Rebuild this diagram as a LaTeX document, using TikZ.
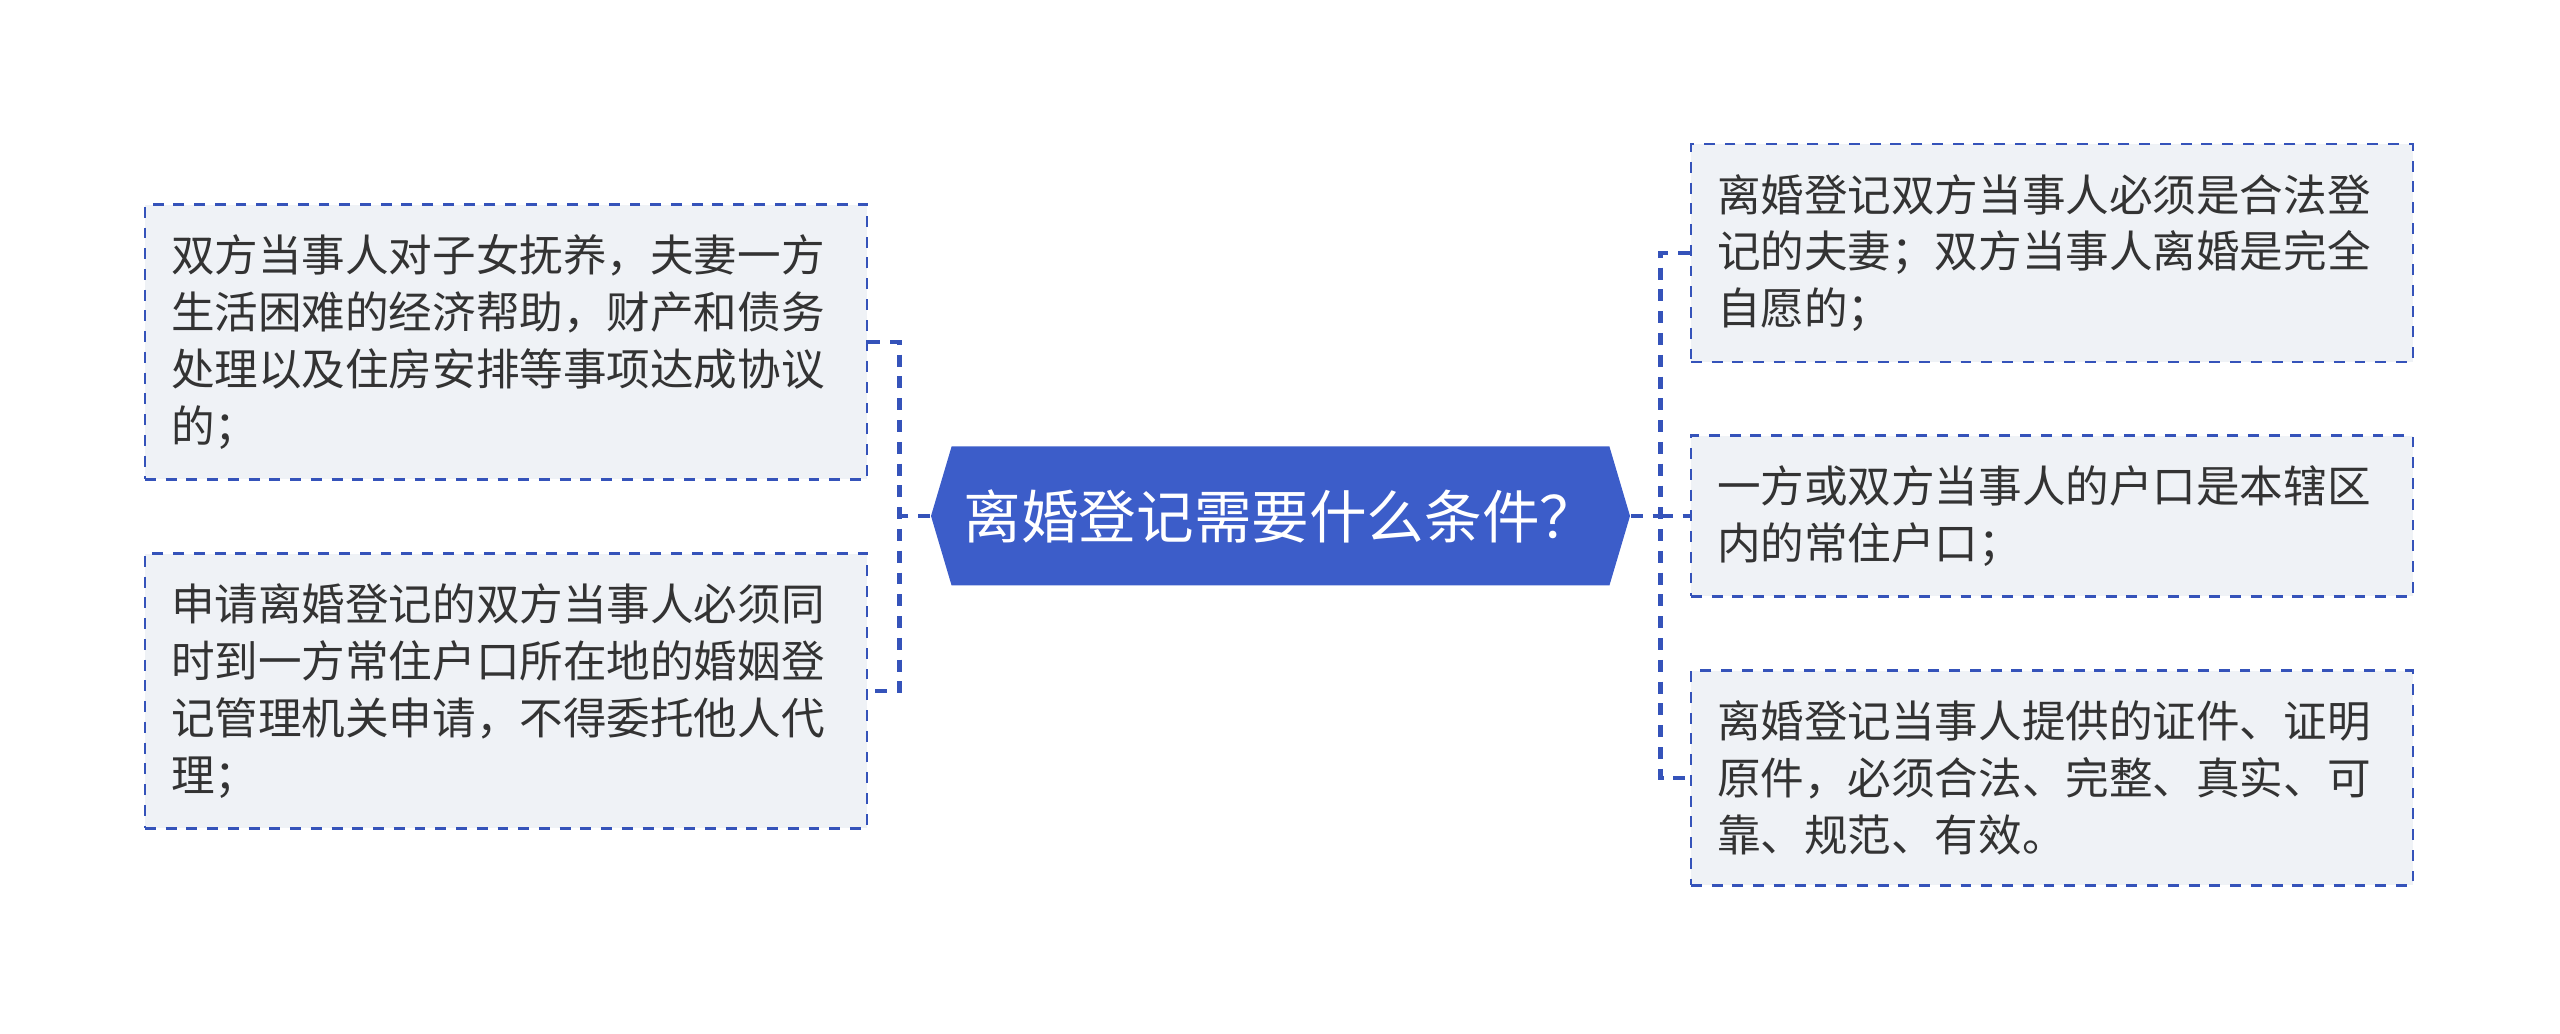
\documentclass[tikz,border=0pt]{standalone}
\usepackage{fontspec}
\newfontfamily\cjk{Noto Sans CJK SC}
\usetikzlibrary{shapes.symbols, positioning}
\definecolor{topicblue}{HTML}{3C5DC9}
\definecolor{linkblue}{HTML}{3553BA}
\definecolor{boxfill}{HTML}{EFF2F6}
\definecolor{textgray}{HTML}{333333}

\begin{document}
\begin{tikzpicture}[
  topic/.style={shape=signal, signal to=east and west, signal pointer angle=147, fill=topicblue, text=white,
    font=\cjk\fontsize{16.4}{20}\selectfont, minimum width=6.99cm, minimum height=1.39cm, inner sep=0pt},
  item/.style={draw=linkblue, line width=0.75pt, dash pattern=on 3.1pt off 2.8pt, fill=boxfill, text=textgray,
    font=\cjk\fontsize{12.4}{16.2}\selectfont, text width=6.7cm, inner xsep=0.26cm, inner ysep=0.3cm, align=left},
  link/.style={draw=linkblue, line width=1.4pt, dash pattern=on 3.4pt off 2.8pt}
]
\useasboundingbox (0,0) rectangle (25.6,10.33);

% Central topic
\node[topic] (C) at (12.805,5.17) {离婚登记需要什么条件？};

% Left branch
\node[item] (L1) at (5.06,6.91) {双方当事人对子女抚养，夫妻一方\\生活困难的经济帮助，财产和债务\\处理以及住房安排等事项达成协议\\的；};
\node[item] (L2) at (5.06,3.42) {申请离婚登记的双方当事人必须同\\时到一方常住户口所在地的婚姻登\\记管理机关申请，不得委托他人代\\理；};

% Right branch
\node[item] (R1) at (20.52,7.80) {离婚登记双方当事人必须是合法登\\记的夫妻；双方当事人离婚是完全\\自愿的；};
\node[item] (R2) at (20.52,5.17) {一方或双方当事人的户口是本辖区\\内的常住户口；};
\node[item] (R3) at (20.52,2.55) {离婚登记当事人提供的证件、证明\\原件，必须合法、完整、真实、可\\靠、规范、有效。};

% Junctions
\coordinate[left=0.31cm of C.west] (LJ);
\coordinate[right=0.30cm of C.east] (RJ);

% Connectors
\draw[link] (C.west) -- (LJ);
\draw[link] (L1.east) -| (LJ) |- (L2.east);
\draw[link] (C.east) -- (RJ);
\draw[link] (R1.west) -| (RJ) |- (R3.west);
\draw[link] (RJ) -- (R2.west);
\end{tikzpicture}
\end{document}
